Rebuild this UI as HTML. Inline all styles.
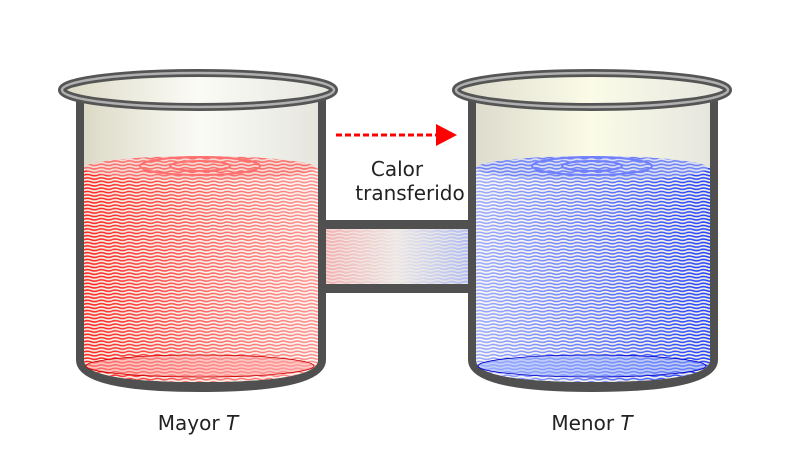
<!DOCTYPE html>
<html><head><meta charset="utf-8"><style>
html,body{margin:0;padding:0;background:#fff;width:800px;height:458px;overflow:hidden}
text{font-family:"DejaVu Sans","Liberation Sans",sans-serif;fill:#222}
</style></head><body>
<svg width="800" height="458" viewBox="0 0 800 458">
<defs>
<linearGradient id="glass" x1="0" x2="1"><stop offset="0" stop-color="#dcdac6"/><stop offset="0.5" stop-color="#fbfbf6"/><stop offset="1" stop-color="#e6e6df"/></linearGradient>
<linearGradient id="glassB" x1="0" x2="1"><stop offset="0" stop-color="#dddccd"/><stop offset="0.5" stop-color="#fbfbe8"/><stop offset="1" stop-color="#e6e6df"/></linearGradient>
<pattern id="wr" width="14" height="3.4" patternUnits="userSpaceOnUse"><path d="M0 1.7 Q3.5 0.3 7 1.7 T14 1.7" stroke="#ff2020" stroke-width="1.6" fill="none"/></pattern>
<pattern id="wb" width="14" height="3.4" patternUnits="userSpaceOnUse"><path d="M0 1.7 Q3.5 0.3 7 1.7 T14 1.7" stroke="#2040ff" stroke-width="1.6" fill="none"/></pattern>
<linearGradient id="fadeR" x1="0" x2="1"><stop offset="0" stop-color="#fff" stop-opacity="0"/><stop offset="0.6" stop-color="#fff" stop-opacity="0.35"/><stop offset="1" stop-color="#fff" stop-opacity="0.5"/></linearGradient>
<linearGradient id="fadeB" x1="0" x2="1"><stop offset="0" stop-color="#fff" stop-opacity="0.55"/><stop offset="0.5" stop-color="#fff" stop-opacity="0.3"/><stop offset="1" stop-color="#fff" stop-opacity="0"/></linearGradient>
<linearGradient id="tube" x1="0" x2="1"><stop offset="0" stop-color="#f4a8ac"/><stop offset="0.5" stop-color="#ebe6e8"/><stop offset="1" stop-color="#a8b6f4"/></linearGradient>
<pattern id="wt" width="14" height="3.4" patternUnits="userSpaceOnUse"><path d="M0 1.7 Q3.5 0.3 7 1.7 T14 1.7" stroke="#f4f0e4" stroke-opacity="0.8" stroke-width="1.3" fill="none"/></pattern>
</defs>

<g>
<rect x="318" y="220" width="158" height="73" fill="#505050"/>
<rect x="316" y="229" width="162" height="55" fill="url(#tube)"/>
<rect x="316" y="229" width="162" height="55" fill="url(#wt)"/>
</g>

<g>
<path d="M76 95 L76 360 Q76 392 200 392 Q326 392 326 360 L326 95 Z" fill="#505050"/>
<path d="M84 95 L84 360 Q84 382 200 382 Q318 382 318 360 L318 95 Z" fill="url(#glass)"/>
<g>
<path d="M84 168 L84 360 Q84 382 200 382 Q318 382 318 360 L318 168 Z" fill="#f2efe2"/>
<path d="M84 168 L84 360 Q84 382 200 382 Q318 382 318 360 L318 168 Z" fill="url(#wr)"/>
<path d="M84 168 L84 360 Q84 382 200 382 Q318 382 318 360 L318 168 Z" fill="url(#fadeR)"/>
<ellipse cx="200" cy="168" rx="116" ry="12" fill="#f5ddd6"/>
<ellipse cx="200" cy="168" rx="116" ry="12" fill="url(#wr)" opacity="0.6"/>
<ellipse cx="200" cy="166" rx="60" ry="9" fill="none" stroke="#ff7070" stroke-width="2"/>
<ellipse cx="200" cy="166" rx="30" ry="5" fill="none" stroke="#ff7070" stroke-width="2"/>
<ellipse cx="200" cy="366" rx="114" ry="11" fill="#ffa0a0" fill-opacity="0.5" stroke="#c00" stroke-width="0.8"/>
</g>
<ellipse cx="198" cy="90" rx="136" ry="17" fill="url(#glass)" stroke="#555" stroke-width="8"/>
<ellipse cx="198" cy="90" rx="136" ry="17" fill="none" stroke="#b0b0b0" stroke-width="2.5"/>
</g>

<g>
<path d="M468 95 L468 360 Q468 392 592 392 Q718 392 718 360 L718 95 Z" fill="#505050"/>
<path d="M476 95 L476 360 Q476 382 592 382 Q710 382 710 360 L710 95 Z" fill="url(#glassB)"/>
<g>
<path d="M476 168 L476 360 Q476 382 592 382 Q710 382 710 360 L710 168 Z" fill="#f2efe2"/>
<path d="M476 168 L476 360 Q476 382 592 382 Q710 382 710 360 L710 168 Z" fill="url(#wb)"/>
<path d="M476 168 L476 360 Q476 382 592 382 Q710 382 710 360 L710 168 Z" fill="url(#fadeB)"/>
<ellipse cx="592" cy="168" rx="116" ry="12" fill="#dde0ee"/>
<ellipse cx="592" cy="168" rx="116" ry="12" fill="url(#wb)" opacity="0.6"/>
<ellipse cx="592" cy="166" rx="60" ry="9" fill="none" stroke="#7080ff" stroke-width="2"/>
<ellipse cx="592" cy="166" rx="30" ry="5" fill="none" stroke="#7080ff" stroke-width="2"/>
<ellipse cx="592" cy="366" rx="114" ry="11" fill="#90a8ff" fill-opacity="0.5" stroke="#00c" stroke-width="0.8"/>
</g>
<ellipse cx="592" cy="90" rx="136" ry="17" fill="url(#glassB)" stroke="#555" stroke-width="8"/>
<ellipse cx="592" cy="90" rx="136" ry="17" fill="none" stroke="#b0b0b0" stroke-width="2.5"/>
</g>

<g>
<line x1="336" y1="135" x2="438" y2="135" stroke="#ff0000" stroke-width="3" stroke-dasharray="6 3"/>
<polygon points="436,124 457,135 436,146" fill="#ff0000"/>
</g>
<text x="397" y="176" font-size="20" text-anchor="middle">Calor</text>
<text x="410" y="200" font-size="20" text-anchor="middle">transferido</text>
<text x="198" y="430" font-size="20" text-anchor="middle">Mayor <tspan font-style="italic">T</tspan></text>
<text x="592" y="430" font-size="20" text-anchor="middle">Menor <tspan font-style="italic">T</tspan></text>
</svg>
</body></html>
